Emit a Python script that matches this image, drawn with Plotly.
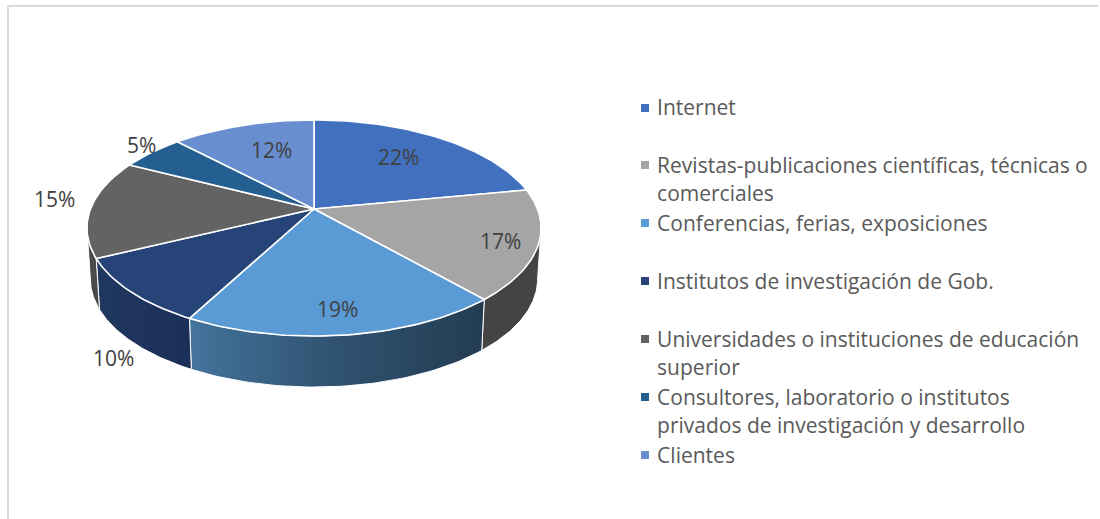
import math
import plotly.graph_objects as go

categories = [
    "Internet<br>\u00a0",
    "Revistas-publicaciones científicas, técnicas o<br>comerciales",
    "Conferencias, ferias, exposiciones<br>\u00a0",
    "Institutos de investigación de Gob.<br>\u00a0",
    "Universidades o instituciones de educación<br>superior",
    "Consultores, laboratorio o institutos<br>privados de investigación y desarrollo",
    "Clientes<br>\u00a0",
]
# Slice sizes as read from the drawn wedges; the printed labels are rounded
shares = [22, 16.5, 19.3, 10.0, 14.7, 5.4, 12.1]
labels = ["22%", "17%", "19%", "10%", "15%", "5%", "12%"]

top_colors = ["#4170BF", "#A5A5A5", "#5B9BD5", "#264478", "#636363", "#255E91", "#698ED0"]
wall_scales = [
    ["#444444", "#444444"],
    ["#444444", "#444444"],
    ["#44739C", "#2F5270", "#233C52"],
    ["#20375F", "#1B3059"],
    ["#4A4A4A", "#4A4A4A"],
    None,
    None,
]

# Layout constants (pixel-like axis, perspective of the pie disc)
CX, CY, RX, RY, PERSP = 314, 209, 223.5, 104.7, 0.176
DEPTH, BASE_SHRINK = 51, 0.985
LABEL_X = [398, 500, 337, 113, 54, 141, 271]
LABEL_Y = [157, 241, 309, 358, 199, 145, 150]
SWATCH_X = 645
SWATCH_Y = [108, 165, 223, 281, 339, 397, 455]


def project(theta, r=1.0):
    z = r * math.cos(theta)
    den = 1 + PERSP * z
    return CX + RX * r * math.sin(theta) / den, CY - RY * z / den


def base(theta):
    x, y = project(theta)
    return CX + (x - CX) * BASE_SHRINK, y + DEPTH


fig = go.Figure()
edges = [0]
for s in shares:
    edges.append(edges[-1] + s)
angles = [e / sum(shares) * 2 * math.pi for e in edges]

# silhouette angles: the wall is only visible in the near half of the disc
sil = math.acos(-PERSP)
vis_lo, vis_hi = sil, 2 * math.pi - sil

for i in range(len(shares)):
    a0, a1 = max(angles[i], vis_lo), min(angles[i + 1], vis_hi)
    if a1 <= a0 or wall_scales[i] is None:
        continue
    ts = [a0 + (a1 - a0) * k / 60 for k in range(61)]
    upper = [project(t) for t in ts]
    lower = [base(t) for t in reversed(ts)]
    pts = upper + lower + upper[:1]
    xs = [p[0] for p in pts]
    cols = wall_scales[i]
    scale = [[j / (len(cols) - 1), c] for j, c in enumerate(cols)]
    fig.add_trace(go.Scatter(
        x=xs, y=[p[1] for p in pts], mode="lines", fill="toself",
        line=dict(color="white", width=1),
        fillgradient=dict(type="horizontal", colorscale=scale, start=min(xs), stop=max(xs)),
        showlegend=False, hoverinfo="skip",
    ))

for i in range(len(shares)):
    n = max(8, int(shares[i] * 3))
    ts = [angles[i] + (angles[i + 1] - angles[i]) * k / n for k in range(n + 1)]
    pts = [(CX, CY)] + [project(t) for t in ts] + [(CX, CY)]
    fig.add_trace(go.Scatter(
        x=[p[0] for p in pts], y=[p[1] for p in pts], mode="lines", fill="toself",
        fillcolor=top_colors[i], line=dict(color="white", width=1.6),
        showlegend=False, hoverinfo="skip",
    ))

# Legend entries keep the names; their swatches sit on the first text line
for i, name in enumerate(categories):
    fig.add_trace(go.Scatter(
        x=[None], y=[None], mode="markers", name=name, legendgroup=f"g{i}",
        marker=dict(symbol="square", size=8, color="rgba(0,0,0,0)"),
    ))
fig.add_trace(go.Scatter(
    x=[SWATCH_X] * len(SWATCH_Y), y=SWATCH_Y, mode="markers",
    marker=dict(symbol="square", size=8, color=top_colors),
    showlegend=False, hoverinfo="skip",
))

for t, x, y in zip(labels, LABEL_X, LABEL_Y):
    fig.add_annotation(x=x, y=y, text=t, showarrow=False,
                       font=dict(family="Open Sans", size=21, color="#404040"))

fig.add_shape(type="line", x0=7, x1=1098, y0=6, y1=6, line=dict(color="#D9D9D9", width=2))
fig.add_shape(type="line", x0=8, x1=8, y0=5, y1=519, line=dict(color="#D9D9D9", width=2))

fig.update_layout(
    width=1100, height=519, margin=dict(l=0, r=0, t=0, b=0),
    paper_bgcolor="white", plot_bgcolor="white",
    xaxis=dict(range=[0, 1100], visible=False, fixedrange=True),
    yaxis=dict(range=[519, 0], visible=False, fixedrange=True),
    font=dict(family="Open Sans", size=21, color="#595959"),
    legend=dict(
        x=0.561, y=0.8325, xanchor="left", yanchor="top",
        bgcolor="rgba(0,0,0,0)", tracegroupgap=0.4, itemwidth=30,
        font=dict(family="Open Sans", size=21, color="#595959"),
        itemclick=False, itemdoubleclick=False,
    ),
)
fig.write_html("out.html", config=dict(displayModeBar=False),
               post_script="document.body.style.margin='0';")
